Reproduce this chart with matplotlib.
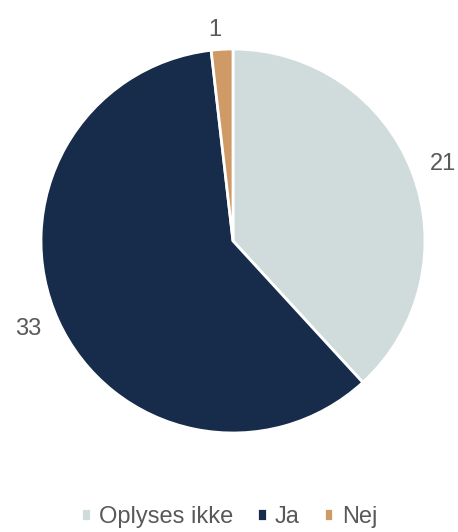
import matplotlib.pyplot as plt

plt.rcParams['font.family'] = ['Liberation Sans', 'DejaVu Sans']

labels = ['Oplyses ikke', 'Ja', 'Nej']
values = [21, 33, 1]
colors = ['#d0dcdc', '#172b4a', '#d09a66']

fig = plt.figure(figsize=(4.58, 5.32), dpi=100)
ax = fig.add_axes([41 / 458, 99 / 532, 384 / 458, 384 / 532])

wedges, texts = ax.pie(
    values, labels=[str(v) for v in values], colors=colors,
    startangle=90, counterclock=False, labeldistance=1.1,
    wedgeprops={'edgecolor': 'white', 'linewidth': 2},
    textprops={'fontsize': 17, 'color': '#595959'}
)
ax.set_xlim(-1, 1)
ax.set_ylim(-1, 1)
for t in texts:
    t.set_clip_on(False)

fig.legend(wedges, labels, loc='center', bbox_to_anchor=(0.5, 1 - 517 / 532),
           ncol=3, frameon=False, fontsize=17, labelcolor='#595959',
           handlelength=0.42, handleheight=0.42, handletextpad=0.35,
           columnspacing=1.0)

fig.savefig('out.png', dpi=100)
